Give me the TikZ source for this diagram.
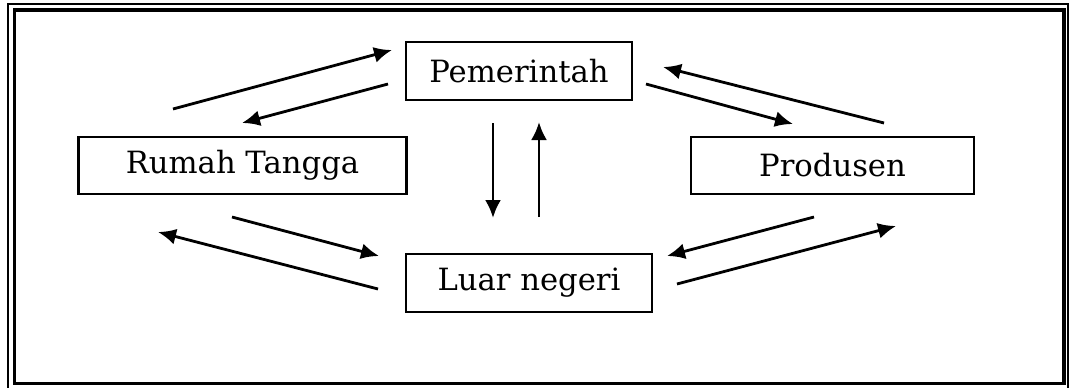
\documentclass[tikz,border=0pt]{standalone}
\usepackage{fontspec}
\setmainfont{DejaVu Serif}
\usetikzlibrary{arrows.meta}

\tikzset{
  box/.style={draw, line width=2.1pt, inner sep=0pt, anchor=center,
              font=\fontsize{23}{27}\selectfont},
  flow/.style={line width=2.1pt, -{Latex[length=13.5pt,width=12pt]}},
}

\begin{document}
\begin{tikzpicture}[x=0.75pt, y=-0.75pt]
  \useasboundingbox (0,0) rectangle (1071,387);

  % double frame
  \draw[line width=1.9pt] (8,4) rectangle (1068,392);
  \draw[line width=2.3pt] (14.5,10) rectangle (1064,383.5);

  % sectors
  \node[box, minimum width=169.5pt, minimum height=43.5pt] (pem)  at (519,71)    {Pemerintah};
  \node[box, minimum width=246.5pt, minimum height=42.75pt] (rt)  at (242.5,165.5) {Rumah Tangga};
  \node[box, minimum width=212.25pt, minimum height=42.75pt] (pro) at (832.5,165.5) {Produsen};
  \node[box, minimum width=184.5pt, minimum height=43.5pt] (ln)   at (529,283)   {Luar negeri};

  % arrow end points
  \coordinate (a1s) at (173,109);  \coordinate (a1e) at (392,50);
  \coordinate (a2s) at (388,84);   \coordinate (a2e) at (242,123);
  \coordinate (a3s) at (493,123);  \coordinate (a3e) at (493,218);
  \coordinate (a4s) at (539,217);  \coordinate (a4e) at (539,122);
  \coordinate (a5s) at (232,217);  \coordinate (a5e) at (379,256);
  \coordinate (a6s) at (378,289);  \coordinate (a6e) at (158,232);
  \coordinate (a7s) at (646,84);   \coordinate (a7e) at (793,124);
  \coordinate (a8s) at (884,123);  \coordinate (a8e) at (663,67);
  \coordinate (a9s) at (814,217);  \coordinate (a9e) at (667,256);
  \coordinate (a10s) at (677,284); \coordinate (a10e) at (896,226);

  % flows
  \draw[flow] (a1s) -- (a1e);
  \draw[flow] (a2s) -- (a2e);
  \draw[flow] (a3s) -- (a3e);
  \draw[flow] (a4s) -- (a4e);
  \draw[flow] (a5s) -- (a5e);
  \draw[flow] (a6s) -- (a6e);
  \draw[flow] (a7s) -- (a7e);
  \draw[flow] (a8s) -- (a8e);
  \draw[flow] (a9s) -- (a9e);
  \draw[flow] (a10s) -- (a10e);
\end{tikzpicture}
\end{document}
